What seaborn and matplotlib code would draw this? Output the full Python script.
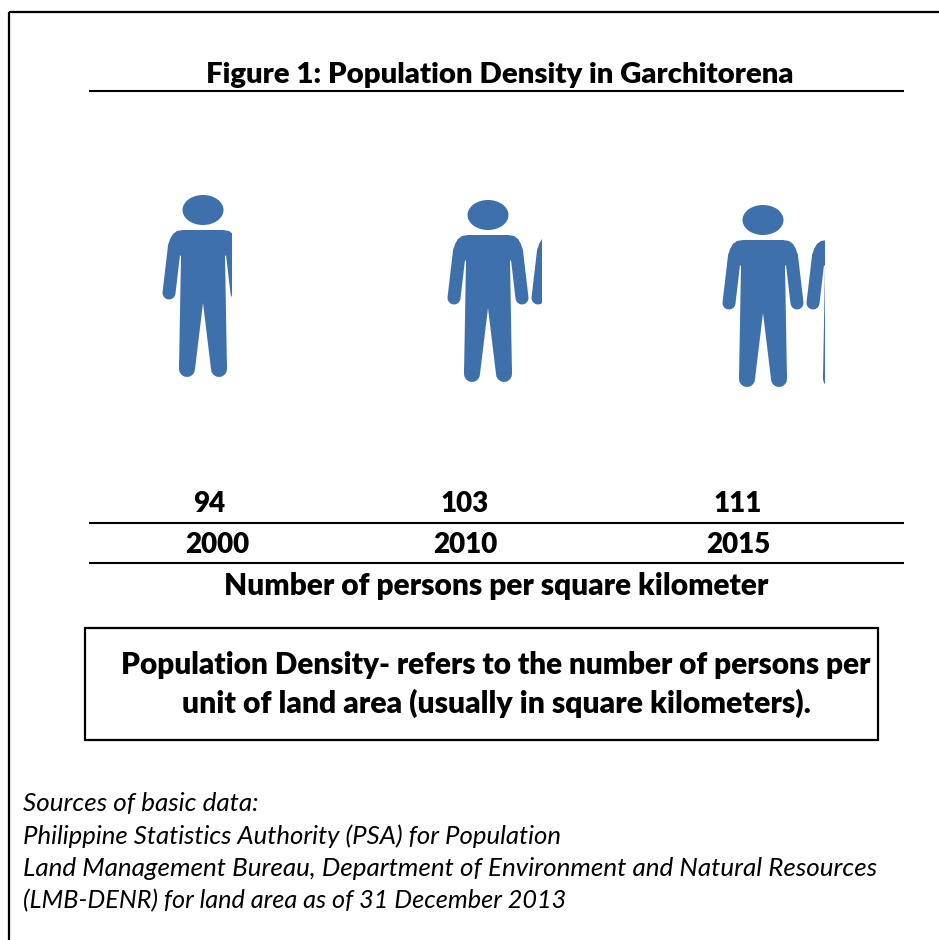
import matplotlib
matplotlib.use("Agg")
import matplotlib.pyplot as plt
import seaborn as sns
from matplotlib.patches import Ellipse, Polygon, Rectangle

# Data
years = ["2000", "2010", "2015"]
density = [94, 103, 111]
persons_drawn = [0.83, 1.13, 1.226]  # how many person icons each year shows

title = "Figure 1: Population Density in Garchitorena"
unit_label = "Number of persons per square kilometer"
definition = ["Population Density- refers to the number of persons per",
              "unit of land area (usually in square kilometers)."]
sources = ["Sources of basic data:",
           "Philippine Statistics Authority (PSA) for Population",
           "Land Management Bureau, Department of Environment and Natural Resources",
           "(LMB-DENR) for land area as of 31 December 2013"]

sns.set_theme(style="white")
plt.rcParams["font.family"] = ["Lato", "DejaVu Sans"]

BLUE = "#3e70ab"
PERSON_STEP = 84
PERSON_LEFT = 41
PX = 0.72  # points per pixel at dpi 100

# Axes in pixels so the layout can be read straight off the reference
fig = plt.figure(figsize=(9.39, 9.40), dpi=100, facecolor="white")
ax = fig.add_axes([0, 0, 1, 1])
ax.set_xlim(0, 939)
ax.set_ylim(940, 0)
ax.axis("off")


def draw_person(cx, cy, clip):
    # all offsets are from the centre of the head, y pointing down
    left = [(-20, 20), (-26, 21), (-30, 24), (-33, 29), (-35, 37), (-22, 46), (-24, 159), (-8, 159), (0, 93)]
    right = [(-x, y) for x, y in left[-2::-1]]
    torso = left + right
    parts = [Ellipse((cx, cy), 41, 30, facecolor=BLUE, edgecolor="none"),
             Polygon([(cx + x, cy + y) for x, y in torso], facecolor=BLUE, edgecolor="none")]
    for p in parts:
        ax.add_patch(p)
        p.set_clip_path(clip)
    for side in (-1, 1):
        arm, = ax.plot([cx + side * 28.5, cx + side * 34], [cy + 36, cy + 83], color=BLUE,
                       lw=13 * PX, solid_capstyle="round")
        leg, = ax.plot([cx + side * 16, cx + side * 16], [cy + 155, cy + 159], color=BLUE,
                       lw=16 * PX, solid_capstyle="round")
        arm.set_clip_path(clip)
        leg.set_clip_path(clip)


head_x = [203, 488, 763]
head_y = [210, 215, 220]
for hx, hy, n in zip(head_x, head_y, persons_drawn):
    left_edge = hx - PERSON_LEFT
    clip = Rectangle((left_edge - 2, hy - 30), n * PERSON_STEP + 2, 210, transform=ax.transData)
    draw_person(hx, hy, clip)
    draw_person(hx + PERSON_STEP, hy, clip)

# Page frame, open on the right and at the bottom
ax.plot([9, 9], [940, 12], color="black", lw=1.6, solid_capstyle="butt")
ax.plot([9, 939], [12, 12], color="black", lw=1.6, solid_capstyle="butt")

# Rules
for y in (91, 523, 563):
    ax.plot([89, 904], [y, y], color="black", lw=1.5, solid_capstyle="butt")

bold = dict(ha="center", va="center", fontweight="heavy", color="black")
ax.text(500, 75, title, fontsize=21.2, **bold)

value_x = [209, 465, 738]
year_x = [217, 465, 738]
for vx, yx, val, yr in zip(value_x, year_x, density, years):
    ax.text(vx, 504, str(val), fontsize=20, **bold)
    ax.text(yx, 545, yr, fontsize=20, **bold)

ax.text(496, 586, unit_label, fontsize=21.5, **bold)

# Definition box
ax.add_patch(Rectangle((85, 628), 793, 112, facecolor="white", edgecolor="black", lw=1.6))
ax.text(496, 665, definition[0], fontsize=21.4, **bold)
ax.text(496, 703, definition[1], fontsize=21.7, **bold)

for y, line, size in zip([803, 836, 869, 901], sources, [18.7, 18.5, 18.7, 18.2]):
    ax.text(23, y, line, ha="left", va="center", fontsize=size, style="italic", color="black")

sns.despine(ax=ax, left=True, bottom=True)
fig.savefig("out.png", dpi=100)
